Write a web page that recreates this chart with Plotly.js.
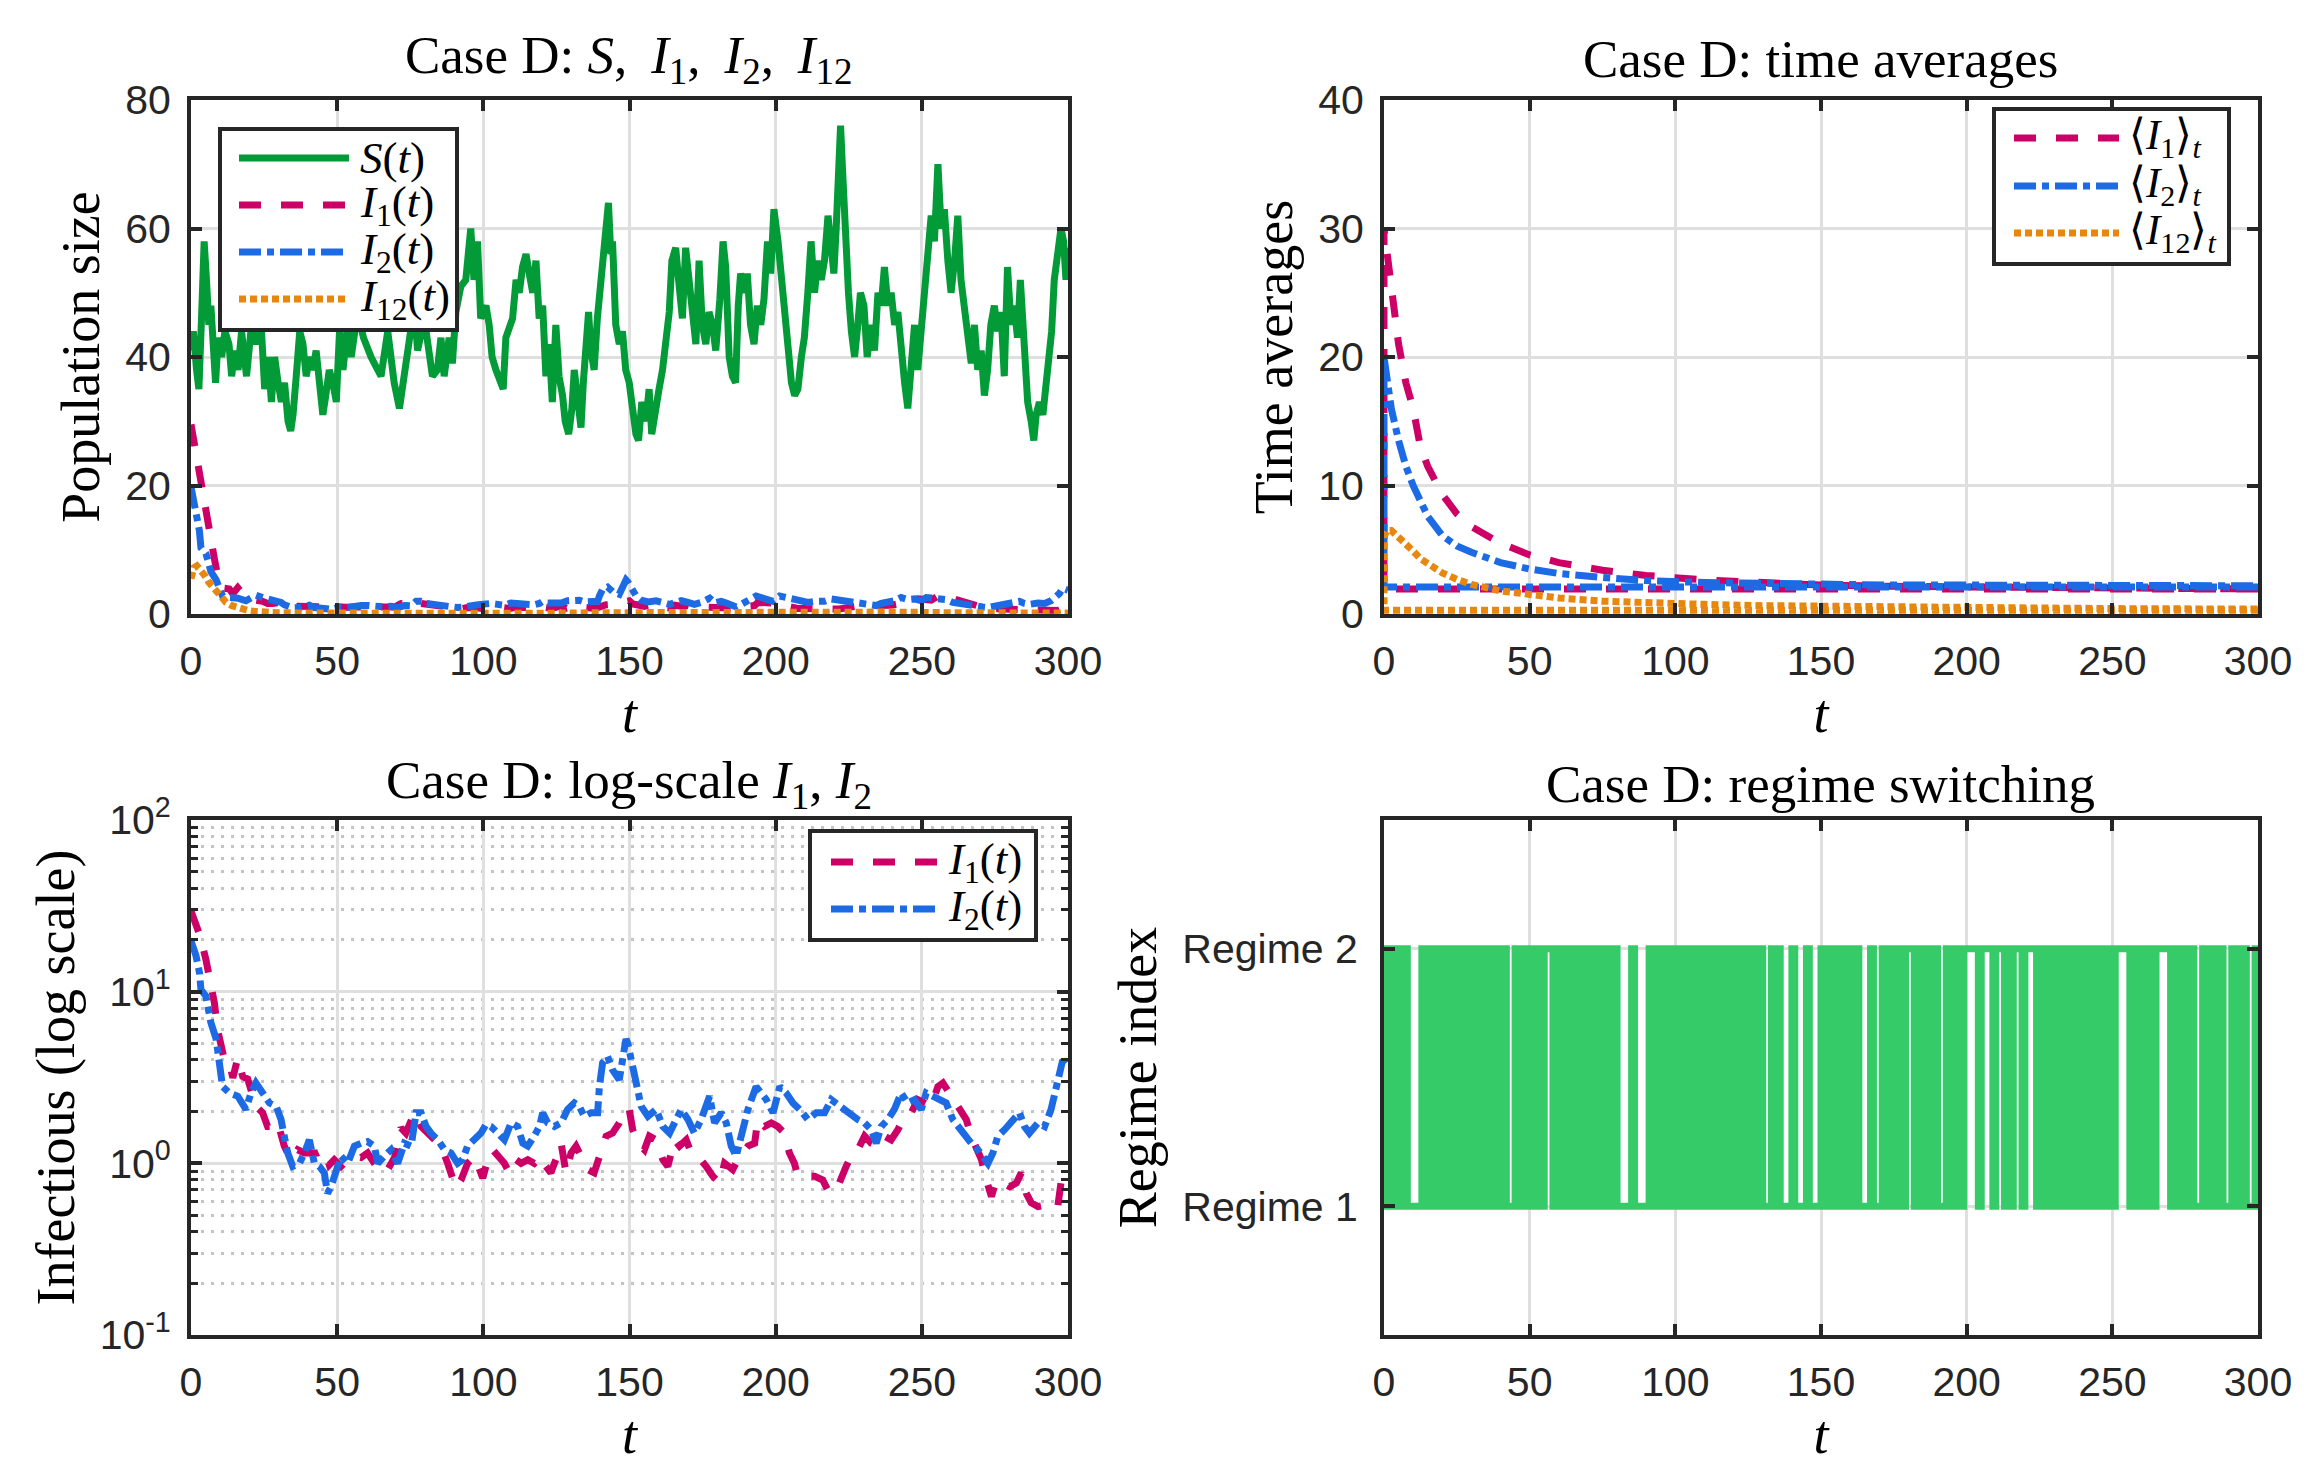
<!DOCTYPE html>
<html>
<head>
<meta charset="utf-8">
<script src="https://cdn.plot.ly/plotly-3.0.1.min.js"></script>
<style>html,body{margin:0;padding:0;background:#fff;}#chart{width:2320px;height:1473px;}</style>
</head>
<body>
<div id="chart"></div>
<script>
// ---------- DATA ----------
const sT = [0,0.8,1.9,2.7,3.6,4.5,5.3,6.1,6.8,7.6,8.4,9.3,10.5,11.6,13,13.9,15,16.1,17.3,19,20.7,22.4,24,25.2,26.4,27.5,28.6,29.8,30.9,32,33.2,34.1,34.9,36,37.2,38.3,39.4,40.6,41.7,42.8,43.9,45.1,46.1,47.3,48.5,49.7,50.8,52,53.6,54.8,57,59,61.6,63.9,65,67.3,69.5,71.3,73,74.7,76.4,77.5,79.8,82.6,84.3,85.5,86.6,88.3,89.4,90.6,92.3,94,95.7,96.8,98,99.1,100.9,102,103,104.3,105.7,106.8,107.7,108.9,110,111.2,112.3,113.4,114.6,115.7,116.9,118,119.1,120.3,121.4,122.5,123.6,124.8,125.9,127.1,128,129.2,130.3,131.1,131.9,132.8,133.4,134.2,135.1,136,136.8,137.9,139,140.2,141,141.9,142.8,143.6,144.2,145.3,146.5,147.6,148.7,149.9,151,152.2,153.1,154.2,155.6,156.7,157.6,158.8,160.1,161.3,162.4,163.6,164.5,165.8,167,168.1,169.2,170.4,171.5,172.7,173.8,174.9,176.1,177.2,178.4,179.5,180.9,182,182.9,184.1,185.2,186.3,187.2,188,189.2,190.3,191.4,192.6,193.7,194.9,196,197.2,198.3,199.4,200.8,201.9,203.1,204.2,205.4,206.5,207.6,208.8,209.8,211,212.1,213.3,214.4,215.6,216.7,217.9,219,219.9,220.7,221.5,222.2,223,223.6,224.1,224.9,225.9,227,228.1,229,230.2,231.3,232.7,233.8,235,236.1,237.2,238.4,239.5,240.7,241.8,243,244.1,245.2,246.4,247.5,248.6,249.8,250.9,252,253.2,254.3,255.5,256.6,257.7,258.9,260,261.2,262.3,263.4,264.6,265.8,266.9,268,269.1,270.3,271.4,272.5,273.6,274.8,275.9,277.1,278.2,279.3,280.5,281.6,282.7,283.7,284.5,285.3,286.2,287.4,288.3,289.1,290.2,291.4,292.5,293.6,294.4,295.3,296.4,297.6,298.5,299.3,300];
const sV = [41,44,38,35,46,58,52,45,48,40,36,43,40,44,42,37,41,38,44,37,45,42,45,35,40,33,40,36,33,36,30,28.5,31,37,44,42,37,40,38,41,35,31,34,38,36,33,44,38,45,40,47,43,40,38,37,44,36,32,38,44,48,41,46,37,38,43,37,43,39,47,51,52,60,52,58,46,48,45,40,38,36,35,43,45,46,52,50,54,56,53,50,55,46,48,37,42,33,45,37,34,30,28,32,38,35,30,29,36,43,47,41,38,46,52,56,62,64,56,58,45,42,44,38,36,31,28,27,33,30,35,28,32,35,38,42,47,55,57,51,46,57,52,48,42,55,45,42,47,45,41,49,58,54,40,37,36,48,53,50,53,45,42,48,45,49,58,53,63,58,52,48,41,36,34,35,40,43,50,58,50,55,52,55,62,58,53,60,70,76,68,60,55,50,44,40,45,50,48,40,45,41,50,48,54,48,50,45,47,40,36,32,40,45,38,45,52,55,62,58,70,60,63,55,50,55,62,52,48,42,39,45,38,41,34,38,45,48,44,47,37,54,45,48,43,52,45,36,33,30,27,31,33,31,36,40,44,52,56,60,58,52,57];

const i1T = [0,1.1,2.9,5.1,6.3,8,9.1,11.4,13.1,14.3,16,17.7,19.4,20.5,22.2,24.5,26.2,27.9,29.6,31.9,34.2,36.5,38.8,41,43.3,45.6,47.3,49,51.3,53.6,55.9,58.2,60.4,62.7,65,67.3,69.6,71.8,73.5,76.4,78.7,82.1,85.5,87.8,88.9,90.6,92.4,94.6,97,98.6,99.8,101.5,103.2,105.5,107.2,108.9,111.2,112.9,115.2,117.4,119.7,121.4,123.1,124.8,126.6,128.3,130,131.7,133.4,135.7,137.9,140.2,142,144.2,146.5,148.2,149.9,151.1,152.9,155.1,156.8,159.1,161.4,163.1,165.4,167.1,169.4,171.1,173.4,176.2,178.5,180.8,182.5,185.3,187.6,190.5,192.8,193.9,196.2,198.5,200.7,203,204.7,206.4,207.6,210.4,213.3,216.1,217.8,219.6,221.8,224.1,226.4,228.1,230.4,232.7,235,237.2,239.5,241.8,244.1,246.4,248.6,250.9,253.2,255.5,257.2,259.4,261.7,263.5,265.2,266.9,268.6,270.4,272.1,273.8,275.5,277.8,280.1,282.4,284,285.7,287.4,289.7,292,294.2,296.5,297.6,299.4,300];
const i1V = [29.5,26.4,21.6,15.4,12.1,8.6,6.0,4.0,3.9,3.15,4.1,3.2,3.1,2.6,2.15,1.97,1.64,1.64,1.75,1.26,1.05,1.2,1.15,1.15,1.15,1.2,0.98,1.05,0.96,1.05,1.1,1.08,1.15,1.0,0.88,0.92,1.08,1.61,1.5,1.97,1.64,1.44,1.26,1.0,0.88,0.72,0.8,1.0,1.1,0.92,0.82,1.05,1.2,1.08,1.0,0.88,1.05,1.0,1.05,1.0,1.1,0.96,0.88,1.05,1.31,0.88,1.15,1.26,1.1,0.92,0.88,1.15,1.44,1.5,1.72,2.06,2.06,1.57,1.31,1.2,1.44,1.37,1.05,0.96,1.37,1.26,1.37,1.15,1.1,0.96,0.84,0.77,1.0,0.92,1.1,1.26,1.31,1.8,1.64,1.72,1.64,1.5,1.15,1.0,0.84,0.84,0.84,0.8,0.7,0.67,0.77,0.96,1.15,1.2,1.44,1.31,1.26,1.44,1.37,1.57,1.88,1.97,2.35,2.25,2.15,2.8,2.94,2.57,2.25,1.97,1.8,1.44,1.26,1.05,0.8,0.64,0.8,0.77,0.73,0.77,0.88,0.67,0.59,0.56,0.57,0.54,0.56,0.77,0.82,0.8];

const i2T = [0,1.7,2.9,3.4,5.1,6.3,6.8,8.6,9.7,10.8,13.1,16,18.8,20.5,22.2,24.5,26.8,29.1,30.8,31.9,33.1,34.8,37.1,38.8,40.5,42.2,43.9,45.6,46.7,47.9,49.6,51.3,53.6,55.9,58.2,60.4,62.7,63.9,66.1,68.4,70.7,73,75.3,77,78.7,80.4,82.1,84.4,86.7,88.9,91.2,92.9,94.6,97,99.2,100.9,102.6,104.9,107.2,109.5,111.7,113.5,115.2,117.4,119.2,120.3,122,124.3,126.6,128.8,131.1,132.8,134.5,136.8,139.1,139.7,140.8,142.5,144.2,146.5,147.7,148.8,149.4,150.5,151.1,152.3,154,156.3,159.1,161.4,163.7,165.4,167.7,170,172.2,174.5,177.4,179.1,181.4,183.1,184.8,186.5,188.2,190.5,193.3,195,196.8,199.1,201.4,203.6,205.9,208.2,211,213.9,216.7,219,221.8,224.7,228.1,230.4,232.7,234.4,236.1,238.4,240.6,242.9,245.2,247.5,249.8,251.5,253.8,256.1,258.3,260.6,262.3,264.6,266.9,269.2,270.8,272.6,274.3,276,278.3,280.5,283.4,285.1,286.8,289.7,292,294.2,296,297.1,298.2,300];
const i2V = [19.8,16.2,12.9,10.3,9.4,7.5,6.6,5.3,3.7,2.8,2.57,2.46,2.06,2.57,2.94,2.57,2.25,2.15,1.8,1.44,1.15,0.96,1.0,1.15,1.37,1.0,0.96,0.88,0.67,0.73,0.92,1.1,1.0,1.26,1.31,1.34,1.26,1.0,1.1,1.2,1.0,1.31,1.26,1.97,1.97,1.64,1.5,1.37,1.2,1.15,1.0,1.05,1.26,1.37,1.5,1.68,1.64,1.5,1.37,1.72,1.64,1.31,1.26,1.44,1.64,1.97,1.72,1.64,1.72,2.06,2.25,2.15,1.88,1.97,1.97,2.8,3.85,4.2,3.5,3.07,4.2,5.3,5.0,4.0,3.7,2.8,2.15,1.88,2.06,1.64,1.5,1.72,2.06,1.8,1.5,1.8,2.46,1.72,1.97,1.72,1.26,1.1,1.5,2.06,2.8,2.57,2.35,1.97,2.8,2.57,2.25,2.06,1.8,1.97,1.97,2.35,2.15,1.97,1.8,1.72,1.57,1.31,1.64,1.8,2.06,2.57,2.25,2.35,2.06,2.57,2.46,2.35,2.25,1.8,1.64,1.44,1.31,1.2,1.1,1.0,1.15,1.44,1.57,1.72,1.97,1.64,1.5,1.72,1.64,2.06,2.7,3.2,4.0,3.7];

const i12T = [0,1,2,3,4,5,6,7,8,9,10,11,12,14,16,18,20,22,25,30,40,60,80,100,120,140,160,180,200,220,240,260,280,300];
const i12V = [5.5,7.2,7.5,7.0,6.5,5.8,5.0,4.5,3.8,3.3,2.8,2.2,1.8,1.3,1.0,0.7,0.5,0.4,0.25,0.2,0.15,0.1,0.2,0.15,0.1,0.2,0.25,0.1,0.15,0.2,0.3,0.2,0.1,0.15];

// running time averages
const avgT   = [0,1,2.5,5,7.5,10,12.5,15,20,25,30,40,50,60,75,90,110,130,150,175,200,250,300];
const avgI1  = [30,28,25.5,21,18,16,13,11.5,9.3,7.8,6.8,5.5,4.6,4.0,3.4,3.0,2.65,2.4,2.25,2.15,2.1,2.0,1.95];
const avgI2  = [20,18,16,13.5,11.5,10,8.7,7.6,6.1,5.3,4.8,4.0,3.5,3.15,2.85,2.6,2.45,2.35,2.3,2.25,2.25,2.2,2.2];
const avgI12 = [6.0,6.5,6.5,6.0,5.5,4.9,4.3,3.9,3.2,2.7,2.3,1.8,1.5,1.25,1.0,0.85,0.75,0.65,0.6,0.52,0.48,0.42,0.38];
// level of the wrap-around segment drawn from t=300 back to t=0
const avgI1Wrap = 1.95, avgI2Wrap = 2.1, avgI12Wrap = 0.3;

// regime index sampled at t = 0,1,...,300
const regime = [
1,2,1,2,1,2,1,2,1,1, 1,1,1,2,1,2,1,2,1,2, 1,2,1,2,1,2,1,2,1,2, 1,2,1,2,1,2,1,2,1,2,
1,2,1,1,1,2,1,2,1,2, 1,2,1,2,1,2,2,2,1,2, 1,2,1,2,1,2,1,2,1,2, 1,2,1,2,1,2,1,2,1,2,
1,1,1,1,1,2,1,1,1,1, 1,2,1,2,1,2,1,2,1,2, 1,2,1,2,1,2,1,2,1,2, 1,2,1,2,1,2,1,2,1,2,
1,2,1,2,1,2,1,2,1,2, 1,1,1,2,1,2,1,1,1,1, 2,1,1,1,1,2,1,1,1,1, 2,1,2,1,2,1,2,1,2,1,
2,1,2,1,1,1,1,2,1,1, 1,2,1,2,1,2,1,2,1,2, 2,2,1,2,1,2,1,2,1,2, 1,1,1,2,1,2,1,2,1,2,
2,2,2,2,1,2,2,2,2,1, 2,2,2,1,2,1,2,2,2,1, 2,2,2,2,1,2,1,2,1,2, 1,2,1,2,1,2,1,2,1,2,
1,2,1,2,1,2,1,2,1,2, 1,2,2,2,2,2,1,2,1,2, 1,2,1,2,1,2,2,2,2,2, 1,2,1,2,1,2,1,2,1,1,
1,2,1,2,1,2,1,2,1,1, 1,2,1,2,1,2,1,1,1,2, 1];
const regimeTicks = [1, 2];
const regimeLabels = ['Regime 1', 'Regime 2'];

const logTickVals = [0.1, 1, 10, 100];
const logTickText = ['10<sup>-1</sup>', '10<sup>0</sup>', '10<sup>1</sup>', '10<sup>2</sup>'];

// ---------- STYLE ----------
const W = 2320, H = 1473;
const cS = '#039a38', cI1 = '#cc0066', cI2 = '#1d6ae5', cI12 = '#e8870e', cReg = '#36cb69';
const SERIF = 'Liberation Serif', SANS = 'Liberation Sans';
const dashI1 = '22px,20px', dashI2 = '22px,6px,7px,6px', dashI12 = '7px,4px';
const LW = 7;
const AX = '#262626', GRID = '#dfdfdf';
const TS = '\u2009';

const nm = {
  S: '<i>S</i>(<i>t</i>)',
  I1: '<i>I</i><sub>1</sub>(<i>t</i>)',
  I2: '<i>I</i><sub>2</sub>(<i>t</i>)',
  I12: '<i>I</i><sub>12</sub>(<i>t</i>)',
  A1: '⟨<i>I</i><sub>1</sub>⟩<sub><i>t</i></sub>',
  A2: '⟨<i>I</i><sub>2</sub>⟩<sub><i>t</i></sub>',
  A12: '⟨<i>I</i><sub>12</sub>⟩<sub><i>t</i></sub>'
};
const sty = {
  S: {color: cS, width: LW},
  I1: {color: cI1, width: LW, dash: dashI1},
  I2: {color: cI2, width: LW, dash: dashI2},
  I12: {color: cI12, width: LW, dash: dashI12}
};

function wrapX(t) { return [t[t.length - 1], t[0]].concat(t); }
function wrapY(level, v) { return [level, level].concat(v); }

const traces = [
  {x: sT, y: sV, xaxis: 'x', yaxis: 'y', mode: 'lines', name: nm.S, line: sty.S},
  {x: i1T, y: i1V, xaxis: 'x', yaxis: 'y', mode: 'lines', name: nm.I1, line: sty.I1},
  {x: i2T, y: i2V, xaxis: 'x', yaxis: 'y', mode: 'lines', name: nm.I2, line: sty.I2},
  {x: i12T, y: i12V, xaxis: 'x', yaxis: 'y', mode: 'lines', name: nm.I12, line: sty.I12},

  {x: wrapX(avgT), y: wrapY(avgI1Wrap, avgI1), xaxis: 'x2', yaxis: 'y2', mode: 'lines', name: nm.A1, line: sty.I1},
  {x: wrapX(avgT), y: wrapY(avgI2Wrap, avgI2), xaxis: 'x2', yaxis: 'y2', mode: 'lines', name: nm.A2, line: sty.I2},
  {x: wrapX(avgT), y: wrapY(avgI12Wrap, avgI12), xaxis: 'x2', yaxis: 'y2', mode: 'lines', name: nm.A12, line: sty.I12},

  {x: i1T, y: i1V, xaxis: 'x3', yaxis: 'y3', mode: 'lines', name: nm.I1, line: sty.I1},
  {x: i2T, y: i2V, xaxis: 'x3', yaxis: 'y3', mode: 'lines', name: nm.I2, line: sty.I2},

  {x: regime.map((_, k) => k), y: regime, xaxis: 'x4', yaxis: 'y4', mode: 'lines', name: 'regime', line: {color: cReg, width: LW, shape: 'hv'}}
];

function baseAxis(extra) {
  return Object.assign({
    showline: true, linecolor: AX, linewidth: 4, mirror: 'ticks',
    ticks: 'inside', ticklen: 11, tickwidth: 4, tickcolor: AX,
    showgrid: true, gridcolor: GRID, gridwidth: 3, zeroline: false,
    tickfont: {family: SANS, size: 41, color: AX},
    fixedrange: true
  }, extra);
}
function xAxis(domain, anchor) {
  return baseAxis({domain: domain, anchor: anchor, range: [0, 300], tickmode: 'linear', tick0: 0, dtick: 50,
    ticklabelstandoff: 8,
    title: {text: '<i>t</i>', font: {family: SERIF, size: 54, color: '#000'}, standoff: 12}});
}
function yTitle(t) { return {text: t, font: {family: SERIF, size: 54, color: '#000'}, standoff: 9}; }

// subplot domains (paper fractions)
const L = [191 / W, 1068 / W], R = [1384 / W, 2258 / W];
const TOP = [1 - 614 / H, 1 - 100 / H], BOT = [1 - 1335 / H, 1 - 820 / H];

const minorLog = [];
[0.1, 1, 10].forEach(d => { for (let m = 2; m <= 9; m++) minorLog.push(+(m * d).toFixed(3)); });

// ---------- legends drawn as boxes + samples + text (pixel geometry) ----------
const px = x => x / W, py = y => 1 - y / H;
const shapes = [], annotations = [];
function legendBox(x0, y0, x1, y1, items, lineX0, lineX1, textX, fs) {
  shapes.push({type: 'rect', xref: 'paper', yref: 'paper', x0: px(x0), x1: px(x1), y0: py(y1), y1: py(y0),
    fillcolor: '#ffffff', line: {color: AX, width: 4}, layer: 'above'});
  items.forEach(it => {
    shapes.push({type: 'line', xref: 'paper', yref: 'paper', x0: px(lineX0), x1: px(lineX1), y0: py(it.y), y1: py(it.y),
      line: Object.assign({}, it.style), layer: 'above'});
    annotations.push({xref: 'paper', yref: 'paper', x: px(textX), y: py(it.y), xanchor: 'left', yanchor: 'middle',
      text: it.text, showarrow: false, font: {family: SERIF, size: fs, color: '#000'}});
  });
}
legendBox(220, 129, 457, 330, [
  {y: 158, text: nm.S, style: sty.S},
  {y: 205, text: nm.I1, style: sty.I1},
  {y: 252, text: nm.I2, style: sty.I2},
  {y: 299, text: nm.I12, style: sty.I12}
], 239, 349, 358, 45);
legendBox(1994, 109, 2229, 264, [
  {y: 138, text: nm.A1, style: sty.I1},
  {y: 186, text: nm.A2, style: sty.I2},
  {y: 233, text: nm.A12, style: sty.I12}
], 2014, 2119, 2127, 43);
legendBox(810, 831, 1036, 940, [
  {y: 862, text: nm.I1, style: sty.I1},
  {y: 909, text: nm.I2, style: sty.I2}
], 831, 937, 946, 45);

// ---------- panel titles ----------
const titleFont = {family: SERIF, size: 53, color: '#000'};
[
  {text: 'Case D:' + ' <i>S</i>,' + TS + ' <i>I</i><sub>1</sub>,' + TS + ' <i>I</i><sub>2</sub>,' + TS + ' <i>I</i><sub>12</sub>', x: (L[0] + L[1]) / 2, y: py(59)},
  {text: 'Case D: time averages', x: (R[0] + R[1]) / 2, y: py(59)},
  {text: 'Case D: log-scale <i>I</i><sub>1</sub>, <i>I</i><sub>2</sub>', x: (L[0] + L[1]) / 2, y: py(784)},
  {text: 'Case D: regime switching', x: (R[0] + R[1]) / 2, y: py(784)}
].forEach(a => annotations.push(Object.assign({xref: 'paper', yref: 'paper', showarrow: false, xanchor: 'center', yanchor: 'middle', font: titleFont}, a)));

const layout = {
  width: W, height: H,
  margin: {l: 0, r: 0, t: 0, b: 0},
  paper_bgcolor: '#fff', plot_bgcolor: '#fff',
  showlegend: false,
  xaxis: xAxis(L, 'y'),
  yaxis: baseAxis({domain: TOP, anchor: 'x', range: [0, 80], dtick: 20, tick0: 0, ticklabelstandoff: 8, title: yTitle('Population size')}),
  xaxis2: xAxis(R, 'y2'),
  yaxis2: baseAxis({domain: TOP, anchor: 'x2', range: [0, 40], dtick: 10, tick0: 0, ticklabelstandoff: 8, title: yTitle('Time averages')}),
  xaxis3: xAxis(L, 'y3'),
  yaxis3: baseAxis({domain: BOT, anchor: 'x3', type: 'log', range: [-1, 2], tickmode: 'array', tickvals: logTickVals, ticktext: logTickText,
    ticklabelstandoff: 8, title: yTitle('Infectious (log scale)'),
    minor: {tickmode: 'array', tickvals: minorLog, ticks: 'inside', ticklen: 7, tickwidth: 3, tickcolor: AX,
      showgrid: true, gridcolor: '#c4c4c4', gridwidth: 3, griddash: '3px,7px'}}),
  xaxis4: xAxis(R, 'y4'),
  yaxis4: baseAxis({domain: BOT, anchor: 'x4', range: [0.5, 2.5], tickmode: 'array', tickvals: regimeTicks, ticktext: regimeLabels,
    ticklabelstandoff: 14, title: yTitle('Regime index')}),
  shapes: shapes,
  annotations: annotations
};

Plotly.newPlot('chart', traces, layout, {staticPlot: true, displayModeBar: false});
</script>
</body>
</html>
